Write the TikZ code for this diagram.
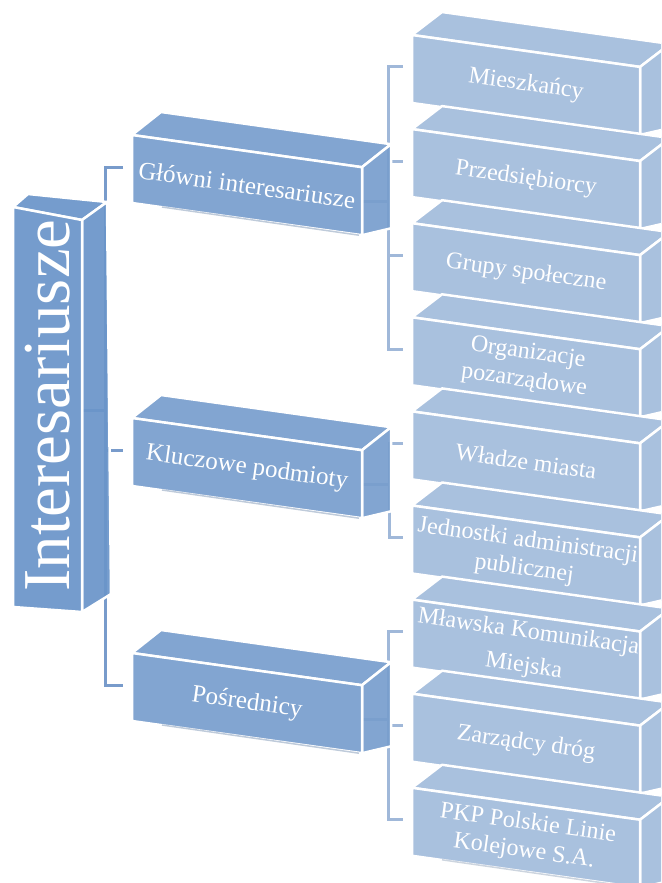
\documentclass[tikz,border=0pt]{standalone}
\usepackage{fontspec}
\setmainfont{Liberation Serif}
\usetikzlibrary{calc}
\definecolor{leaffill}{HTML}{A3BCDC}
\definecolor{midfill}{HTML}{789ECD}
\definecolor{rootfill}{HTML}{6B95C9}
\definecolor{rootconn}{HTML}{789BCB}
\definecolor{leafconn}{HTML}{A0B8D9}

\newcommand{\boxcoords}[5]{%
  \coordinate (#1-tl) at (#2,#3);
  \coordinate (#1-tr) at ({#2+#4},{#3+0.14*#4});
  \coordinate (#1-br) at ({#2+#4},{#3+0.14*#4+#5});
  \coordinate (#1-bl) at ({#2},{#3+#5});
  \coordinate (#1-tick) at ({#2-9},{#3+32});
  \coordinate (#1-out) at ($(#1-tr)!0.5!(#1-br)$);
}
\newcommand{\boxdraw}[6]{%
  \path[face, fill=#2] (#1-tl) -- ($(#1-tl)+(#3,#4)$) -- ($(#1-tr)+(#3,#4)$) -- (#1-tr) -- cycle;
  \path[face, fill=#2] (#1-tr) -- ($(#1-tr)+(#3,#4)$) -- ($(#1-br)+({#3},{0.3*(#4)})$) -- (#1-br) -- cycle;
  \path[face, fill=#2] (#1-tl) -- (#1-tr) -- (#1-br) -- (#1-bl) -- cycle;
  \draw[bottomline, draw=#2!80!black] ($(#1-bl)+(30,4)$) -- ($(#1-br)+(-3,0)$);
  \node[#5] (#1) at ($(#1-tl)!0.5!(#1-br)$) {#6};
}

\begin{document}
\begin{tikzpicture}[x=1pt,y=-1pt,
  face/.style={draw=white, line width=2.5pt, line join=round, fill opacity=0.93},
  bottomline/.style={line width=1.5pt, draw opacity=0.4},
  rootline/.style={draw=rootconn, line width=3pt, line join=miter},
  leafline/.style={draw=leafconn, line width=3pt, line join=miter},
  boxtext/.style={text=white, align=center, inner sep=0pt, rotate=-8,
    font=\fontsize{24}{28}\selectfont},
  midtext/.style={boxtext, font=\fontsize{25}{29}\selectfont},
  roottext/.style={text=white, inner sep=0pt, rotate=90,
    font=\fontsize{67}{70}\selectfont},
]
\useasboundingbox (0,0) rectangle (661,883);
\clip (0,0) rectangle (661,883);

% ---------- coordinates ----------
\coordinate (root-tl) at (13,207);
\coordinate (root-tr) at (82,220);
\coordinate (root-br) at (82,612);
\coordinate (root-bl) at (13,607);
\coordinate (root-out) at (82,410);

\boxcoords{m1}{132}{135}{230}{68}
\boxcoords{m2}{132}{418}{230}{68}
\boxcoords{m3}{132}{653}{230}{68}

\boxcoords{l1}{412}{35}{228}{68}
\boxcoords{l2}{412}{129.1}{228}{68}
\boxcoords{l3}{412}{223.2}{228}{68}
\boxcoords{l4}{412}{317.3}{228}{68}
\boxcoords{l5}{412}{411.4}{228}{68}
\boxcoords{l6}{412}{505.5}{228}{68}
\boxcoords{l7}{412}{599.6}{228}{68}
\boxcoords{l8}{412}{693.7}{228}{68}
\boxcoords{l9}{412}{787.8}{228}{68}

% ---------- connectors ----------
\coordinate (rj) at (105,410);
\draw[rootline] (root-out) -- (rj);
\draw[rootline] (m1-tick) -- (m1-tick -| rj) -- (m3-tick -| rj) -- (m3-tick);
\draw[rootline] (m2-tick -| rj) -- (m2-tick);

\coordinate (g1) at ($(m1-out)+(26,0)$);
\coordinate (g2) at ($(m2-out)+(27,0)$);
\coordinate (g3) at ($(m3-out)+(26,0)$);
\draw[leafline] (m1-out) -- (g1);
\draw[leafline] (l1-tick) -- (l1-tick -| g1) -- (l4-tick -| g1) -- (l4-tick);
\draw[leafline] (l2-tick -| g1) -- (l2-tick);
\draw[leafline] (l3-tick -| g1) -- (l3-tick);
\draw[leafline] (m2-out) -- (g2);
\draw[leafline] (l5-tick) -- (l5-tick -| g2) -- (l6-tick -| g2) -- (l6-tick);
\draw[leafline] (m3-out) -- (g3);
\draw[leafline] (l7-tick) -- (l7-tick -| g3) -- (l9-tick -| g3) -- (l9-tick);
\draw[leafline] (l8-tick -| g3) -- (l8-tick);

% ---------- root box ----------
\path[face, fill=rootfill] (root-tl) -- (28,194) -- (107,202) -- (root-tr) -- cycle;
\path[face, fill=rootfill] (root-tr) -- (107,202) -- (111,594) -- (root-br) -- cycle;
\path[face, fill=rootfill] (root-tl) -- (root-tr) -- (root-br) -- (root-bl) -- cycle;
\node[roottext] (root) at ($(root-tl)!0.5!(root-br)+(0,-4)$) {Interesariusze};

% ---------- middle boxes ----------
\boxdraw{m1}{midfill}{29}{-23}{midtext}{Główni interesariusze}
\boxdraw{m2}{midfill}{29}{-23}{midtext}{Kluczowe podmioty}
\boxdraw{m3}{midfill}{29}{-23}{midtext}{Pośrednicy}

% ---------- leaf boxes ----------
\boxdraw{l1}{leaffill}{30}{-23}{boxtext}{Mieszkańcy}
\boxdraw{l2}{leaffill}{30}{-23}{boxtext}{Przedsiębiorcy}
\boxdraw{l3}{leaffill}{30}{-23}{boxtext}{Grupy społeczne}
\boxdraw{l4}{leaffill}{30}{-23}{boxtext}{Organizacje\\pozarządowe}
\boxdraw{l5}{leaffill}{30}{-23}{boxtext}{Władze miasta}
\boxdraw{l6}{leaffill}{30}{-23}{boxtext}{Jednostki administracji\\publicznej}
\boxdraw{l7}{leaffill}{30}{-23}{boxtext}{Mławska Komunikacja\\[6pt]Miejska}
\boxdraw{l8}{leaffill}{30}{-23}{boxtext}{Zarządcy dróg}
\boxdraw{l9}{leaffill}{30}{-23}{boxtext}{PKP Polskie Linie\\Kolejowe S.A.}
\end{tikzpicture}
\end{document}
